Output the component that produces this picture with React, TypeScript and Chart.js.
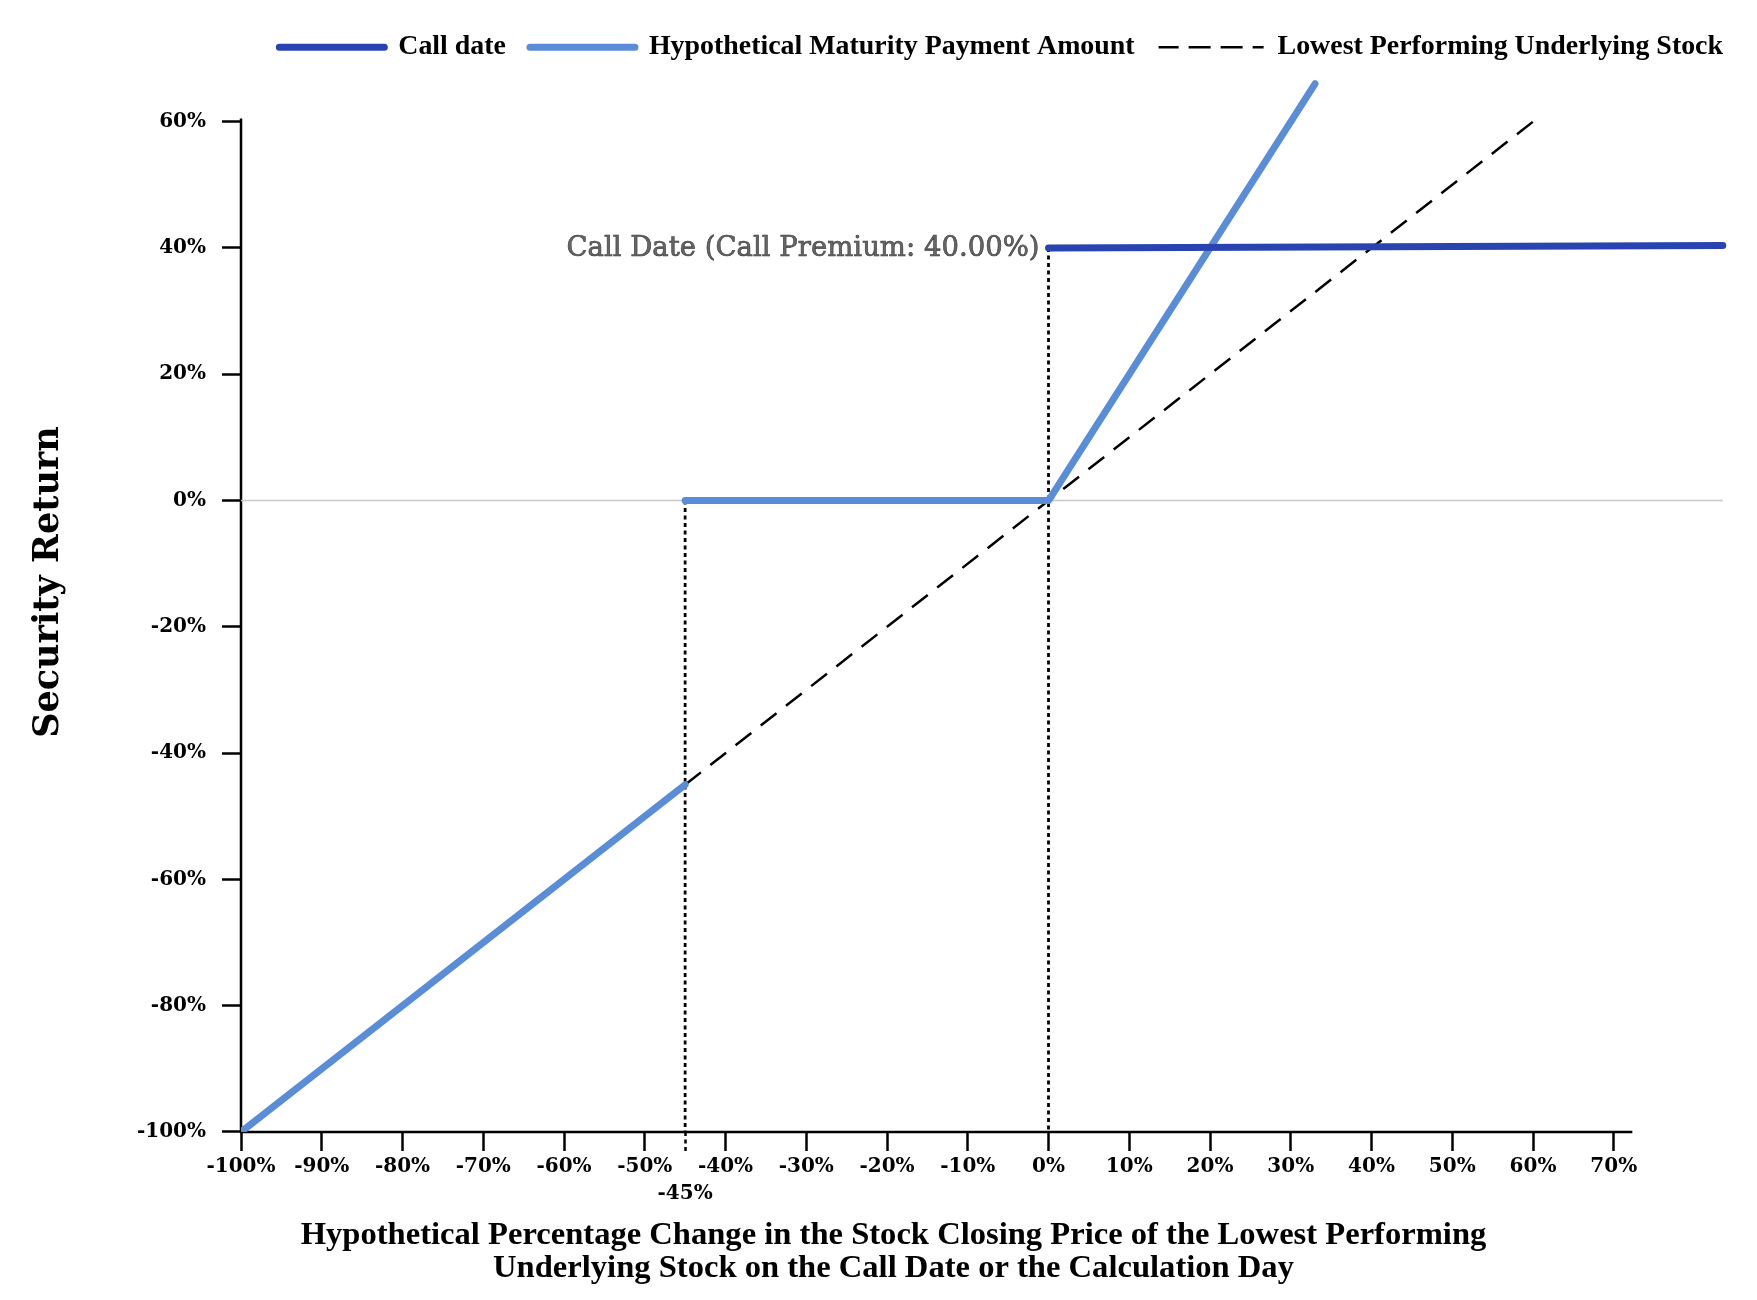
import React, { useEffect, useRef } from 'react';
import { Chart, registerables } from 'chart.js';

Chart.register(...registerables);

// ---- data ----
const seriesLabels = [
  'Call date',
  'Hypothetical Maturity Payment Amount',
  'Lowest Performing Underlying Stock',
];
const callDateX = [0, 83.5];
const callDateY = [40, 40.4];
const maturityX = [-100, -45, -45, -45, 0, 33];
const maturityY: (number | null)[] = [-100, -45, null, 0, 0, 66];
const stockX = [-45, 60];
const stockY = [-45, 60];
const barrierLineX = [-45, -45];
const barrierLineY = [0, -100];
const callLineX = [0, 0];
const callLineY = [40, -100];
const zeroLineX = [-100, 83.5];
const zeroLineY = [0, 0];

const xTickValues = [-100, -90, -80, -70, -60, -50, -45, -40, -30, -20, -10, 0, 10, 20, 30, 40, 50, 60, 70];
const yTickValues = [-100, -80, -60, -40, -20, 0, 20, 40, 60];
const barrierTick = -45;

const annotationText = 'Call Date (Call Premium: 40.00%)';
const annotationX = 0;
const annotationY = 40;
const xTitle = [
  'Hypothetical Percentage Change in the Stock Closing Price of the Lowest Performing',
  'Underlying Stock on the Call Date or the Calculation Day',
];
const yTitle = 'Security Return';

const X_MIN = -100;
const X_MAX = 86.5;
const Y_MIN = -100;
const Y_MAX = 68;
const xAxisEnd = 72.3;
const yAxisEnd = 60.5;

// ---- styles ----
const TIMES = "'Liberation Serif', 'Times New Roman', serif";
const GEORGIA = "'DejaVu Serif', Georgia, serif";
const DARK_BLUE = '#2944b0';
const LIGHT_BLUE = '#5a8dd8';

const zip = (xs: number[], ys: (number | null)[]) => xs.map((x, i) => ({ x, y: ys[i] }));

const axisPlugin = {
  id: 'axisLinesAndNote',
  beforeDatasetsDraw(chart: any) {
    const { ctx, scales } = chart;
    const x = scales.x;
    const y = scales.y;
    const x0 = x.getPixelForValue(X_MIN);
    const y0 = y.getPixelForValue(Y_MIN);
    ctx.save();
    ctx.strokeStyle = '#000';
    ctx.lineWidth = 2.5;
    ctx.beginPath();
    ctx.moveTo(x0, y.getPixelForValue(yAxisEnd));
    ctx.lineTo(x0, y0);
    ctx.moveTo(x0 - 1.25, y0);
    ctx.lineTo(x.getPixelForValue(xAxisEnd), y0);
    ctx.stroke();
    ctx.restore();

    // y axis title (rotated)
    ctx.save();
    ctx.translate(y.left + 9.3, (chart.chartArea.top + chart.chartArea.bottom) / 2 - 19.5);
    ctx.rotate(-Math.PI / 2);
    ctx.font = `bold 35px ${GEORGIA}`;
    ctx.fillStyle = '#000';
    ctx.textAlign = 'center';
    ctx.textBaseline = 'middle';
    ctx.fillText(yTitle, 0, 0);
    ctx.restore();
  },
  afterDatasetsDraw(chart: any) {
    const { ctx, scales } = chart;
    const px = scales.x.getPixelForValue(annotationX) - 9;
    const py = scales.y.getPixelForValue(annotationY) + 8;
    ctx.save();
    ctx.font = `27.5px ${GEORGIA}`;
    ctx.textAlign = 'right';
    ctx.textBaseline = 'alphabetic';
    ctx.fillStyle = '#666';
    ctx.strokeStyle = '#3a3a3a';
    ctx.lineWidth = 0.6;
    ctx.fillText(annotationText, px, py);
    ctx.strokeText(annotationText, px, py);
    ctx.restore();
  },
};

export default function App() {
  const canvasRef = useRef<HTMLCanvasElement | null>(null);

  useEffect(() => {
    if (!canvasRef.current) return;
    Chart.defaults.color = '#000';
    const lineBase = { pointRadius: 0, pointHoverRadius: 0, tension: 0, fill: false };
    const chart = new Chart(canvasRef.current, {
      type: 'line',
      data: {
        datasets: [
          {
            ...lineBase,
            label: seriesLabels[0],
            data: zip(callDateX, callDateY),
            borderColor: DARK_BLUE,
            backgroundColor: DARK_BLUE,
            borderWidth: 7,
            borderCapStyle: 'round',
            borderJoinStyle: 'round',
          },
          {
            ...lineBase,
            label: seriesLabels[1],
            data: zip(maturityX, maturityY),
            borderColor: LIGHT_BLUE,
            backgroundColor: LIGHT_BLUE,
            borderWidth: 7,
            borderCapStyle: 'round',
            borderJoinStyle: 'round',
            spanGaps: false,
          },
          {
            ...lineBase,
            label: seriesLabels[2],
            data: zip(stockX, stockY),
            borderColor: '#000',
            backgroundColor: '#000',
            borderWidth: 2.5,
            borderDash: [20, 12],
          },
          {
            ...lineBase,
            label: '',
            data: zip(barrierLineX, barrierLineY),
            borderColor: '#000',
            borderWidth: 2.8,
            borderDash: [4, 3.5],
          },
          {
            ...lineBase,
            label: '',
            data: zip(callLineX, callLineY),
            borderColor: '#000',
            borderWidth: 2.8,
            borderDash: [4, 3.5],
          },
          {
            ...lineBase,
            label: '',
            data: zip(zeroLineX, zeroLineY),
            borderColor: '#c8c8c8',
            borderWidth: 1.5,
          },
        ],
      } as any,
      options: {
        animation: false,
        responsive: true,
        maintainAspectRatio: false,
        layout: { padding: { top: 1.25, right: 2, bottom: 7.4, left: 32 } },
        plugins: {
          legend: {
            position: 'top',
            align: 'end',
            labels: {
              usePointStyle: false,
              boxWidth: 105,
              boxHeight: 0,
              padding: 24,
              color: '#000',
              font: { family: TIMES, size: 27.9, weight: 'bold' },
              filter: (item: any) => item.datasetIndex < 3,
            },
          },
          title: {
            display: true,
            position: 'bottom',
            align: 'center',
            text: xTitle,
            color: '#000',
            font: { family: TIMES, size: 32.6, weight: 'bold', lineHeight: 0.994 },
            padding: { top: 10.8, bottom: 0 },
          },
          tooltip: { enabled: false },
        },
        scales: {
          x: {
            type: 'linear',
            min: X_MIN,
            max: X_MAX,
            border: { display: false },
            grid: {
              drawOnChartArea: false,
              color: 'rgba(0,0,0,0)',
              tickColor: '#000',
              tickLength: 19,
              tickWidth: 2.5,
              tickBorderDash: (c: any) => (c.tick && c.tick.value === barrierTick ? [4, 3.5] : []),
            },
            afterBuildTicks: (scale: any) => {
              scale.ticks = xTickValues.map((v) => ({ value: v }));
            },
            ticks: {
              autoSkip: false,
              maxRotation: 0,
              minRotation: 0,
              padding: 2,
              color: '#000',
              font: { family: GEORGIA, size: 20, weight: 'bold', lineHeight: 1.35 },
              callback: (value: any) => (value === barrierTick ? ['', `${value}%`] : `${value}%`),
            },
          },
          y: {
            type: 'linear',
            min: Y_MIN,
            max: Y_MAX,
            border: { display: false },
            grid: {
              drawOnChartArea: false,
              color: 'rgba(0,0,0,0)',
              tickColor: '#000',
              tickLength: 19,
              tickWidth: 2.5,
            },
            afterBuildTicks: (scale: any) => {
              scale.ticks = yTickValues.map((v) => ({ value: v }));
            },
            afterFit: (scale: any) => {
              scale.width = 201;
            },
            ticks: {
              autoSkip: false,
              padding: 16,
              color: '#000',
              font: { family: GEORGIA, size: 20, weight: 'bold' },
              callback: (value: any) => `${value}%`,
            },
            title: { display: false },
          },
        },
      } as any,
      plugins: [axisPlugin],
    });
    return () => chart.destroy();
  }, []);

  return (
    <div style={{ width: 1741, height: 1284, position: 'relative' }}>
      <canvas ref={canvasRef} />
    </div>
  );
}
